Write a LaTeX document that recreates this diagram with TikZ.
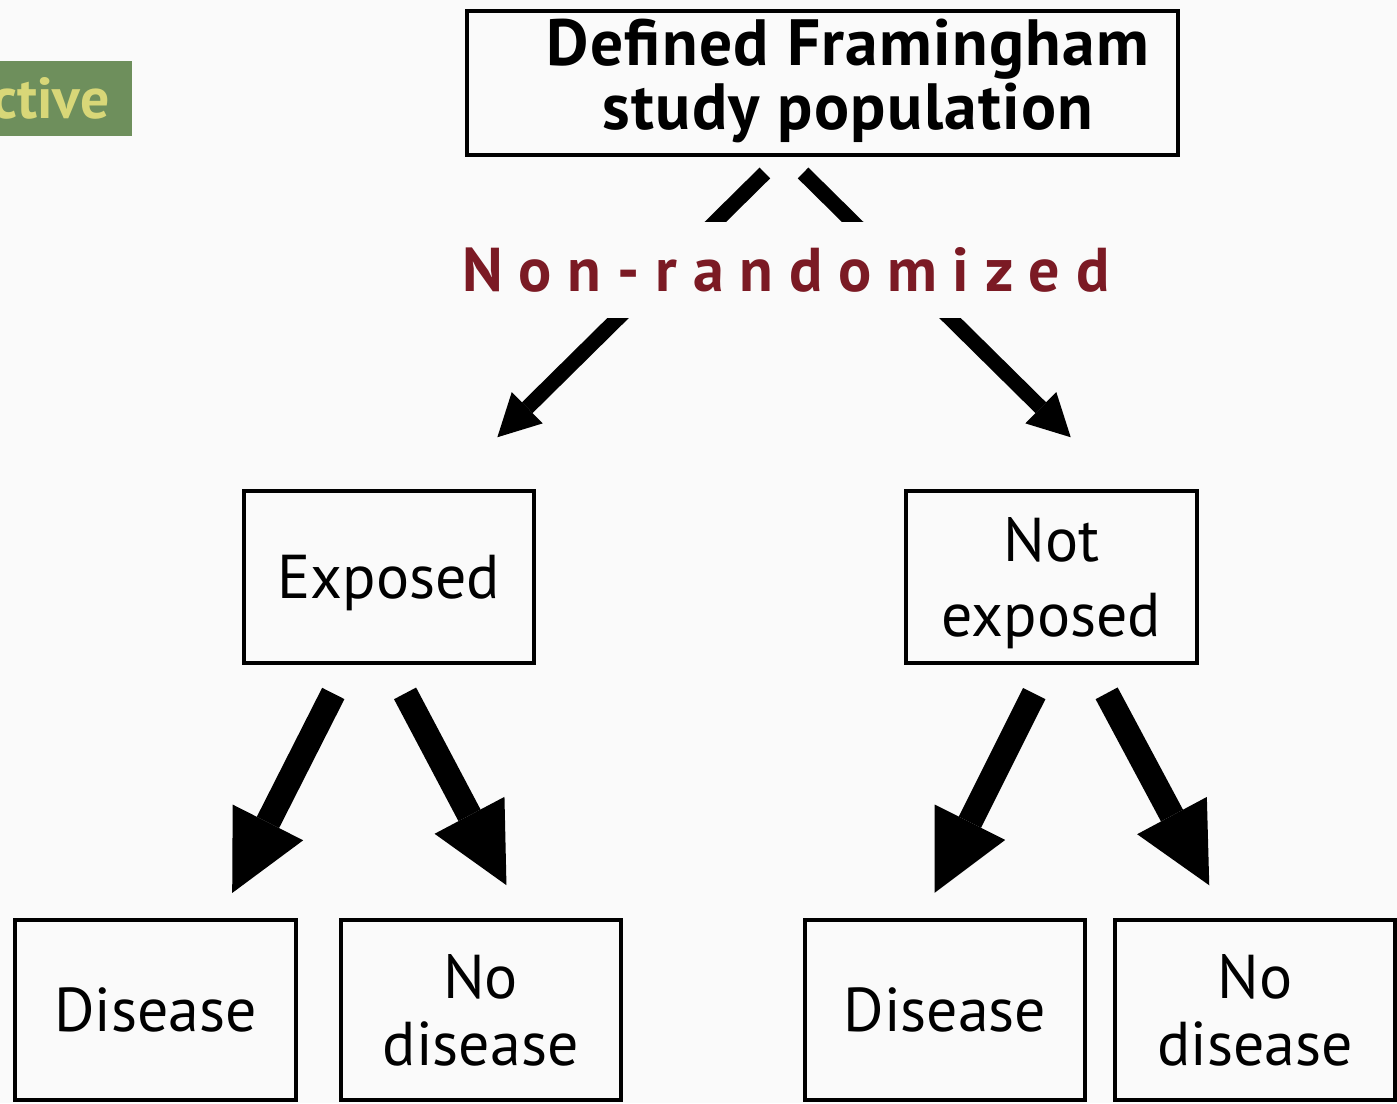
\documentclass[tikz,border=0pt]{standalone}
\usepackage{fontspec}
\setmainfont{PT Sans}
\usepackage{tikz}
\usetikzlibrary{arrows.meta,positioning}
\definecolor{slidebg}{RGB}{250,250,250}
\definecolor{bannergreen}{RGB}{110,143,92}
\definecolor{banneryellow}{RGB}{216,215,120}
\definecolor{labelred}{RGB}{123,26,36}

\begin{document}
\begin{tikzpicture}[
    x=0.01cm, y=-0.01cm,
    box/.style={rectangle, draw, line width=1.15pt, inner sep=0pt, align=center, text depth=0pt, font=\fontsize{17.6pt}{18.8pt}\selectfont},
    popbox/.style={box, minimum width=7.11cm, minimum height=1.44cm},
    groupbox/.style={box, minimum width=2.90cm, minimum height=1.72cm},
    outcome/.style={box, minimum width=2.80cm, minimum height=1.80cm},
    split/.style={-{Triangle[length=0.42cm, width=0.44cm, line width=0pt]}, line width=4.3pt, shorten <=0.226cm, shorten >=0.735cm},
    branch/.style={-{Triangle[length=0.79cm, width=0.79cm, line width=0pt]}, line width=7.1pt}
]
\fill[slidebg] (0,0) rectangle (1397,1103);
\useasboundingbox (0,0) rectangle (1397,1103);

% banner cut off at the left edge
\node[anchor=east, fill=bannergreen, text=banneryellow, inner xsep=0.23cm, minimum height=0.75cm,
      font=\fontsize{16.4pt}{16.4pt}\selectfont\bfseries] (banner) at (133,98.5) {ctive};

\node[popbox] (pop) at (822.5,83) {};
\node[font=\fontsize{18.6pt}{16.5pt}\selectfont\bfseries\addfontfeature{LetterSpace=2}, align=center, inner sep=0pt] (popname) at (848,81) {Defined Framingham\\study population};

\node[groupbox] (exp) at (389,577) {Exposed};
\node[groupbox, font=\fontsize{17.6pt}{21.3pt}\selectfont] (notexp) at (1051.5,577) {Not\\exposed};

\node[outcome] (dis1) at (155.5,1010) {Disease};
\node[outcome, right=0.41cm of dis1] (nodis1) {No\\disease};
\node[outcome] (dis2) at (945,1010) {Disease};
\node[outcome, right=0.26cm of dis2] (nodis2) {No\\disease};

\draw[split] ([xshift=-0.415cm]pop.south) -- ([xshift=0.56cm]exp.north);
\draw[split] ([xshift=-0.355cm]pop.south) -- ([xshift=0.715cm]notexp.north);

\draw[branch, shorten <=0.318cm, shorten >=0.28cm] ([xshift=-0.413cm]exp.south) -- ([xshift=0.64cm]dis1.north);
\draw[branch, shorten <=0.32cm, shorten >=0.37cm] ([xshift=0.011cm]exp.south) -- ([xshift=0.43cm]nodis1.north);
\draw[branch, shorten <=0.318cm, shorten >=0.28cm] ([xshift=-0.03cm]notexp.south) -- ([xshift=-0.23cm]dis2.north);
\draw[branch, shorten <=0.32cm, shorten >=0.37cm] ([xshift=0.40cm]notexp.south) -- ([xshift=-0.285cm]nodis2.north);

% label sits over the two upper arrows
\node[fill=slidebg, text=labelred, minimum height=0.96cm, inner xsep=0.1cm,
      font=\fontsize{17.6pt}{17.6pt}\selectfont\bfseries\addfontfeature{LetterSpace=25.5}] (nonrand) at (786,270) {Non-randomized};

\end{tikzpicture}
\end{document}
